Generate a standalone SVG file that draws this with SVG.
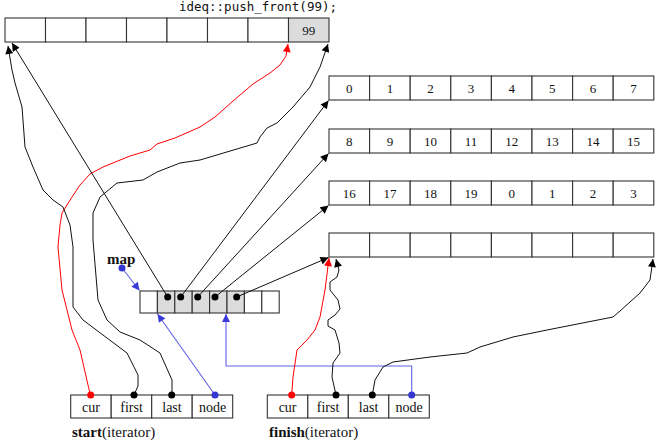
<svg xmlns="http://www.w3.org/2000/svg" width="660" height="440" viewBox="0 0 660 440">
<defs>
<marker id="ak" viewBox="0 0 10 10" refX="10" refY="5" markerWidth="9" markerHeight="8" markerUnits="userSpaceOnUse" orient="auto"><path d="M0,0L10,5L0,10z" fill="#000"/></marker>
<marker id="ar" viewBox="0 0 10 10" refX="10" refY="5" markerWidth="9" markerHeight="8" markerUnits="userSpaceOnUse" orient="auto"><path d="M0,0L10,5L0,10z" fill="#f00"/></marker>
<marker id="ab" viewBox="0 0 10 10" refX="10" refY="5" markerWidth="9" markerHeight="8" markerUnits="userSpaceOnUse" orient="auto"><path d="M0,0L10,5L0,10z" fill="#3a3ad6"/></marker>
</defs>
<style>
.c{fill:#fff;stroke:#333;stroke-width:1.1}
.g{fill:#dcdcdc;stroke:#333;stroke-width:1.1}
.t{font-family:"Liberation Serif","Times New Roman",serif;font-size:13px;text-anchor:middle;fill:#111}
.f{font-family:"Liberation Serif","Times New Roman",serif;font-size:14px;text-anchor:middle;fill:#111}
.lb{font-family:"Liberation Serif","Times New Roman",serif;font-size:15px;fill:#111}
.k{fill:none;stroke:#111;stroke-width:1;stroke-linejoin:round;marker-end:url(#ak)}
.r{fill:none;stroke:#f00;stroke-width:1;stroke-linejoin:round;marker-end:url(#ar)}
.b{fill:none;stroke:#6060e8;stroke-width:1.1;marker-end:url(#ab)}
.dk{fill:#000}.dr{fill:#f00}.db{fill:#3535d0}
</style>
<text x="337" y="11" text-anchor="end" style="font-family:'DejaVu Sans Mono',monospace;font-size:12.5px" fill="#111">ideq::push_front(99);</text>
<g id="topbuf">
<rect class="c" x="5" y="18" width="40.5" height="24"/><rect class="c" x="45.5" y="18" width="40.5" height="24"/><rect class="c" x="86" y="18" width="40.5" height="24"/><rect class="c" x="126.5" y="18" width="40.5" height="24"/><rect class="c" x="167" y="18" width="40.5" height="24"/><rect class="c" x="207.5" y="18" width="40.5" height="24"/><rect class="c" x="248" y="18" width="40.5" height="24"/><rect class="g" x="288.5" y="18" width="40.5" height="24"/>
<text class="t" x="308.7" y="34.5">99</text>
</g>
<g id="buf1">
<rect class="c" x="329" y="76" width="40.6" height="24"/><rect class="c" x="369.6" y="76" width="40.6" height="24"/><rect class="c" x="410.2" y="76" width="40.6" height="24"/><rect class="c" x="450.8" y="76" width="40.6" height="24"/><rect class="c" x="491.4" y="76" width="40.6" height="24"/><rect class="c" x="532" y="76" width="40.6" height="24"/><rect class="c" x="572.6" y="76" width="40.6" height="24"/><rect class="c" x="613.2" y="76" width="40.6" height="24"/>
<text class="t" x="349.3" y="92.5">0</text><text class="t" x="389.9" y="92.5">1</text><text class="t" x="430.5" y="92.5">2</text><text class="t" x="471.1" y="92.5">3</text><text class="t" x="511.7" y="92.5">4</text><text class="t" x="552.3" y="92.5">5</text><text class="t" x="592.9" y="92.5">6</text><text class="t" x="633.5" y="92.5">7</text>
</g>
<g id="buf2">
<rect class="c" x="329" y="129" width="40.6" height="24"/><rect class="c" x="369.6" y="129" width="40.6" height="24"/><rect class="c" x="410.2" y="129" width="40.6" height="24"/><rect class="c" x="450.8" y="129" width="40.6" height="24"/><rect class="c" x="491.4" y="129" width="40.6" height="24"/><rect class="c" x="532" y="129" width="40.6" height="24"/><rect class="c" x="572.6" y="129" width="40.6" height="24"/><rect class="c" x="613.2" y="129" width="40.6" height="24"/>
<text class="t" x="349.3" y="145.5">8</text><text class="t" x="389.9" y="145.5">9</text><text class="t" x="430.5" y="145.5">10</text><text class="t" x="471.1" y="145.5">11</text><text class="t" x="511.7" y="145.5">12</text><text class="t" x="552.3" y="145.5">13</text><text class="t" x="592.9" y="145.5">14</text><text class="t" x="633.5" y="145.5">15</text>
</g>
<g id="buf3">
<rect class="c" x="329" y="181" width="40.6" height="24"/><rect class="c" x="369.6" y="181" width="40.6" height="24"/><rect class="c" x="410.2" y="181" width="40.6" height="24"/><rect class="c" x="450.8" y="181" width="40.6" height="24"/><rect class="c" x="491.4" y="181" width="40.6" height="24"/><rect class="c" x="532" y="181" width="40.6" height="24"/><rect class="c" x="572.6" y="181" width="40.6" height="24"/><rect class="c" x="613.2" y="181" width="40.6" height="24"/>
<text class="t" x="349.3" y="197.5">16</text><text class="t" x="389.9" y="197.5">17</text><text class="t" x="430.5" y="197.5">18</text><text class="t" x="471.1" y="197.5">19</text><text class="t" x="511.7" y="197.5">0</text><text class="t" x="552.3" y="197.5">1</text><text class="t" x="592.9" y="197.5">2</text><text class="t" x="633.5" y="197.5">3</text>
</g>
<g id="buf4">
<rect class="c" x="329" y="233" width="40.6" height="24"/><rect class="c" x="369.6" y="233" width="40.6" height="24"/><rect class="c" x="410.2" y="233" width="40.6" height="24"/><rect class="c" x="450.8" y="233" width="40.6" height="24"/><rect class="c" x="491.4" y="233" width="40.6" height="24"/><rect class="c" x="532" y="233" width="40.6" height="24"/><rect class="c" x="572.6" y="233" width="40.6" height="24"/><rect class="c" x="613.2" y="233" width="40.6" height="24"/>
</g>
<g id="map">
<rect class="c" x="140" y="291" width="17.4" height="22"/><rect class="g" x="157.4" y="291" width="17.4" height="22"/><rect class="g" x="174.8" y="291" width="17.4" height="22"/><rect class="g" x="192.2" y="291" width="17.4" height="22"/><rect class="g" x="209.6" y="291" width="17.4" height="22"/><rect class="g" x="227" y="291" width="17.4" height="22"/><rect class="c" x="244.4" y="291" width="17.4" height="22"/><rect class="c" x="261.8" y="291" width="17.4" height="22"/>
<text class="lb" x="107" y="264" font-weight="bold">map</text>
</g>
<g id="start">
<rect class="c" x="70.7" y="395" width="40.5" height="23"/><rect class="c" x="111.2" y="395" width="40.5" height="23"/><rect class="c" x="151.7" y="395" width="40.5" height="23"/><rect class="c" x="192.2" y="395" width="40.5" height="23"/>
<text class="f" x="91" y="411.5">cur</text><text class="f" x="131.5" y="411.5">first</text><text class="f" x="172" y="411.5">last</text><text class="f" x="212.5" y="411.5">node</text>
<text class="lb" x="72" y="437"><tspan font-weight="bold">start</tspan>(iterator)</text>
</g>
<g id="finish">
<rect class="c" x="267.3" y="395" width="40.5" height="23"/><rect class="c" x="307.8" y="395" width="40.5" height="23"/><rect class="c" x="348.3" y="395" width="40.5" height="23"/><rect class="c" x="388.8" y="395" width="40.5" height="23"/>
<text class="f" x="287.6" y="411.5">cur</text><text class="f" x="328.1" y="411.5">first</text><text class="f" x="368.6" y="411.5">last</text><text class="f" x="409.1" y="411.5">node</text>
<text class="lb" x="269" y="437"><tspan font-weight="bold">finish</tspan>(iterator)</text>
</g>
<g id="connectors">
<polyline class="r" points="90.5,395 88,385 80,350 72,330 62,290 58,247 60,225 62,213 72,197 80,185 90,174 103,167 130,156 150,150 157,144 175,138 200,127 215,117 233,101 253,84 270,73 280,65 286,56 288,44"/>
<polyline class="k" points="134,395 138,386 138,375 127,353 103,335 83,320 73,307 73,247 70,225 63,207 53,200 43,190 33,167 25,147 22,107 15,83 12,70 8,46"/>
<polyline class="k" points="172,395 172,380 160,353 140,340 120,332 107,320 98,300 93,240 93,213 100,197 117,183 143,180 157,172 180,163 200,160 257,143 260,137 267,128 277,123 293,107 310,87 320,67 328,44"/>
<line class="b" x1="215" y1="395" x2="157.5" y2="314"/>
<polyline class="b" points="411.7,395 411.7,366 226,366 226,314"/>
<line class="b" x1="122" y1="268" x2="139.5" y2="290.5"/>
<line class="k" x1="167.7" y1="297" x2="12" y2="43"/>
<line class="k" x1="180.7" y1="297" x2="328.5" y2="100.5"/>
<line class="k" x1="197.7" y1="297" x2="328.5" y2="153.5"/>
<line class="k" x1="215" y1="297" x2="328.5" y2="205.5"/>
<line class="k" x1="236.7" y1="297" x2="328.5" y2="257.5"/>
<polyline class="r" points="291.7,395 293,377 297,350 307,340 315,330 320,317 325,290 329,258"/>
<polyline class="k" points="336,395 332,377 333,363 340,353 339,343 335,330 328,326 328,320 335,315 340,309 338,300 330,290 330,282 337,277 339,270 336,259"/>
<polyline class="k" points="372.3,395 375,380 383,367 393,362 430,357 467,353 480,347 513,337 547,330 613,317 620,311 640,293 650,280 653,259"/>
<circle class="db" cx="122" cy="268" r="3.5"/>
<circle class="dk" cx="167.7" cy="297" r="3.5"/><circle class="dk" cx="180.7" cy="297" r="3.5"/><circle class="dk" cx="197.7" cy="297" r="3.5"/><circle class="dk" cx="215" cy="297" r="3.5"/><circle class="dk" cx="236.7" cy="297" r="3.5"/>
<circle class="dr" cx="90.7" cy="395" r="3.5"/><circle class="dk" cx="134" cy="395" r="3.5"/><circle class="dk" cx="171.7" cy="395" r="3.5"/><circle class="db" cx="215" cy="395" r="3.5"/>
<circle class="dr" cx="291.7" cy="395" r="3.5"/><circle class="dk" cx="336" cy="395" r="3.5"/><circle class="dk" cx="372.3" cy="395" r="3.5"/><circle class="db" cx="411.7" cy="395" r="3.5"/>
</g>
</svg>
